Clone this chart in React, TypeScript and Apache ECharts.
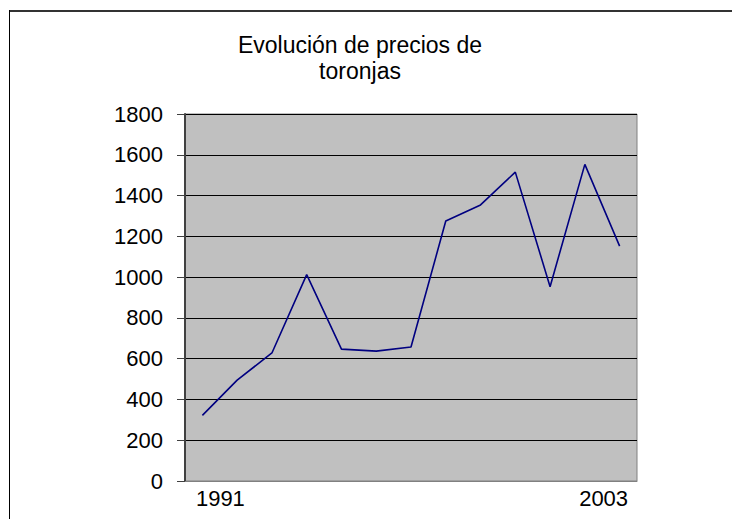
import React, { useEffect, useRef } from "react";
import * as echarts from "echarts";

const years = ["1991","1992","1993","1994","1995","1996","1997","1998","1999","2000","2001","2002","2003"];
const prices = [322, 495, 628, 1012, 647, 637, 657, 1275, 1354, 1515, 953, 1553, 1152];
const titleText = "Evolución de precios de\ntoronjas";

export default function App() {
  const ref = useRef<HTMLDivElement>(null);
  useEffect(() => {
    const chart = echarts.init(ref.current!, undefined, { renderer: "svg" });
    chart.setOption({
      animation: false,
      backgroundColor: "#ffffff",
      textStyle: { fontFamily: "Liberation Sans, Arial, sans-serif" },
      title: {
        text: titleText,
        left: 355,
        top: 27,
        textAlign: "center",
        textStyle: { fontSize: 23, fontWeight: "normal", color: "#000", lineHeight: 26, fontFamily: "Liberation Sans, Arial, sans-serif" },
      },
      graphic: [
        { type: "line", shape: { x1: 9, y1: 11, x2: 732, y2: 11 }, style: { stroke: "#333", lineWidth: 2 } },
        { type: "line", shape: { x1: 9.5, y1: 10, x2: 9.5, y2: 519 }, style: { stroke: "#000", lineWidth: 1 } },
      ],
      grid: {
        left: 185,
        top: 114,
        right: 95,
        bottom: 38,
        show: true,
        backgroundColor: "#c0c0c0",
        borderColor: "#808080",
        borderWidth: 1,
      },
      xAxis: {
        type: "category",
        data: years,
        boundaryGap: true,
        axisLine: { show: true, lineStyle: { color: "#808080", width: 1 } },
        axisTick: { show: false },
        axisLabel: {
          interval: 11,
          margin: 6,
          color: "#000",
          fontSize: 22,
          formatter: (v: string, i: number) => (i === 0 ? "{a|" + v + "}" : "{b|" + v + "}"),
          rich: {
            a: { fontSize: 22, color: "#000", padding: [0, 0, 0, 36] },
            b: { fontSize: 22, color: "#000", padding: [0, 32, 0, 0] },
          },
        },
        splitLine: { show: false },
      },
      yAxis: {
        type: "value",
        min: 0,
        max: 1800,
        interval: 200,
        axisLine: { show: true, lineStyle: { color: "#404040", width: 2 } },
        axisTick: { show: true, length: 8, lineStyle: { color: "#404040", width: 1 } },
        axisLabel: { color: "#000", fontSize: 22, margin: 22, formatter: (v: number) => String(v) },
        splitLine: { show: true, lineStyle: { color: "#000", width: 1 } },
      },
      series: [
        {
          type: "line",
          data: prices,
          symbol: "none",
          lineStyle: { color: "#000080", width: 1.6 },
        },
      ],
    });
    return () => chart.dispose();
  }, []);
  return <div ref={ref} style={{ position: "fixed", left: 0, top: 0, width: 732, height: 519 }} />;
}
